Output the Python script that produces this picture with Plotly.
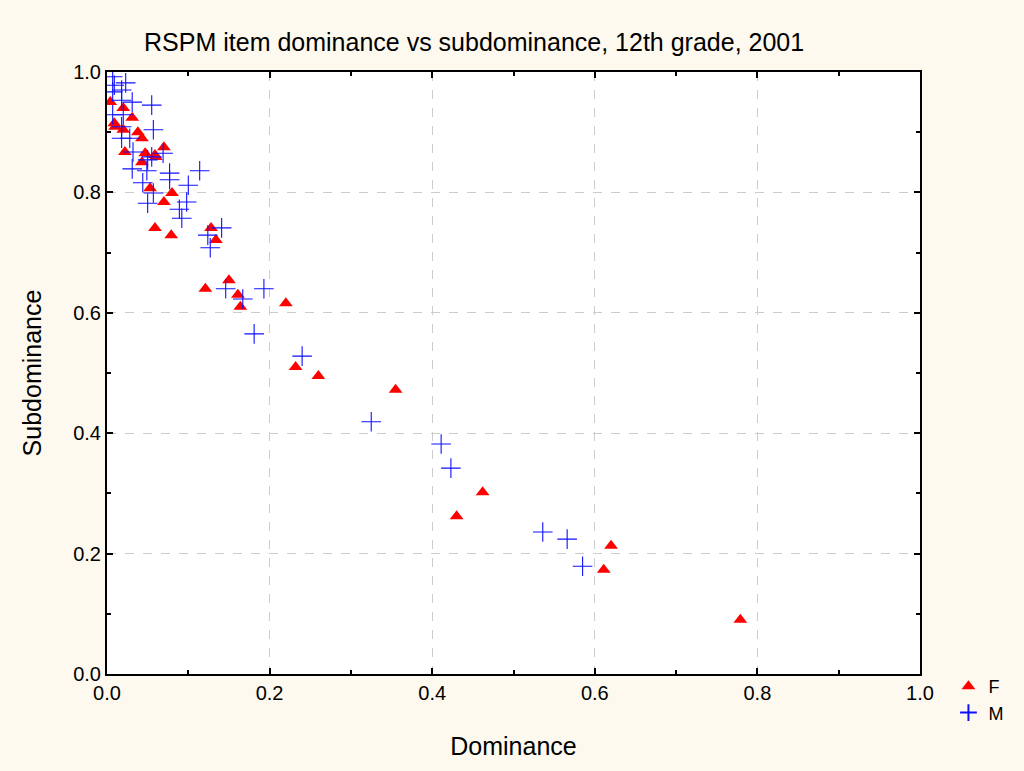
import plotly.graph_objects as go

# Female (F) items: dominance, subdominance
f_dom = [0.004, 0.020, 0.031, 0.009, 0.010, 0.020, 0.038, 0.043, 0.022, 0.047,
         0.043, 0.059, 0.070, 0.060, 0.053, 0.080, 0.070, 0.059, 0.079, 0.121,
         0.128, 0.134, 0.150, 0.161, 0.164, 0.220, 0.232, 0.260, 0.355, 0.430,
         0.462, 0.611, 0.620, 0.779]
f_sub = [0.950, 0.940, 0.924, 0.915, 0.909, 0.904, 0.900, 0.890, 0.867, 0.865,
         0.850, 0.862, 0.875, 0.859, 0.807, 0.799, 0.784, 0.741, 0.729, 0.640,
         0.741, 0.721, 0.654, 0.630, 0.610, 0.616, 0.510, 0.495, 0.472, 0.262,
         0.302, 0.173, 0.213, 0.090]

# Male (M) items
m_dom = [0.007, 0.009, 0.023, 0.007, 0.018, 0.018, 0.031, 0.055, 0.007, 0.020,
         0.018, 0.057, 0.018, 0.028, 0.032, 0.055, 0.069, 0.050, 0.031, 0.049,
         0.077, 0.077, 0.114, 0.044, 0.100, 0.057, 0.050, 0.098, 0.089, 0.092,
         0.124, 0.127, 0.141, 0.146, 0.167, 0.193, 0.181, 0.240, 0.325, 0.411,
         0.423, 0.536, 0.566, 0.585]
m_sub = [0.992, 0.978, 0.982, 0.967, 0.970, 0.953, 0.950, 0.945, 0.929, 0.929,
         0.909, 0.904, 0.890, 0.890, 0.867, 0.859, 0.865, 0.854, 0.839, 0.836,
         0.832, 0.821, 0.836, 0.816, 0.812, 0.799, 0.782, 0.784, 0.772, 0.757,
         0.729, 0.708, 0.741, 0.640, 0.623, 0.640, 0.565, 0.528, 0.419, 0.382,
         0.342, 0.236, 0.224, 0.179]

tick_vals = [0.0, 0.2, 0.4, 0.6, 0.8, 1.0]
tick_text = ["0.0", "0.2", "0.4", "0.6", "0.8", "1.0"]

FONT = "Liberation Sans, Arial, sans-serif"

fig = go.Figure()
fig.add_trace(go.Scatter(x=f_dom, y=f_sub, mode="markers", name="F",
                         marker=dict(symbol="triangle-up", color="#FF0000", size=12,
                                     line=dict(width=0))))
fig.add_trace(go.Scatter(x=m_dom, y=m_sub, mode="markers", name="M",
                         marker=dict(symbol="cross-thin", size=14,
                                     line=dict(width=1.1, color="#1010FF"))))

axis_common = dict(
    range=[0, 1], tickvals=tick_vals, ticktext=tick_text,
    showline=True, linecolor="black", linewidth=2, mirror="allticks",
    ticks="inside", ticklen=6, tickwidth=2, tickcolor="black",
    minor=dict(ticks="inside", ticklen=4, tickwidth=2, dtick=0.1, tick0=0,
               tickcolor="black", showgrid=False),
    showgrid=True, gridcolor="#cccccc", griddash="dash", gridwidth=1,
    zeroline=False,
    tickfont=dict(family=FONT, size=20, color="black"),
)

fig.update_xaxes(**axis_common,
                 title=dict(text="Dominance", font=dict(family=FONT, size=25, color="black"), standoff=34))
fig.update_yaxes(**axis_common,
                 title=dict(text="Subdominance", font=dict(family=FONT, size=25, color="black"), standoff=24))

fig.update_layout(
    width=1024, height=771,
    margin=dict(l=107, r=104, t=72, b=97),
    paper_bgcolor="#FDF9EE", plot_bgcolor="white",
    title=dict(text="RSPM item dominance vs subdominance, 12th grade, 2001",
               x=0.463, xanchor="center", y=0.945, yanchor="middle",
               font=dict(family=FONT, size=25, color="black")),
    legend=dict(x=1.035, y=0.01, xanchor="left", yanchor="top",
                bgcolor="rgba(0,0,0,0)", font=dict(family=FONT, size=18, color="black"),
                itemsizing="constant", tracegroupgap=0),
    showlegend=True,
)

fig.write_html("out.html")
